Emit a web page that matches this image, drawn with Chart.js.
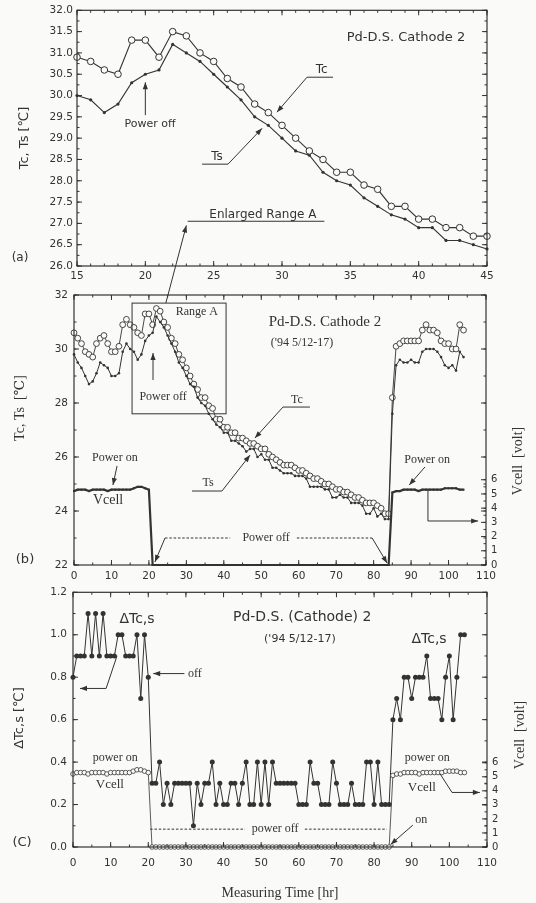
<!DOCTYPE html>
<html><head><meta charset="utf-8">
<script src="https://cdn.jsdelivr.net/npm/chart.js@4.4.1/dist/chart.umd.min.js"></script>
<style>
html,body{margin:0;padding:0;background:#fafaf8;}
body{width:536px;height:903px;position:relative;overflow:hidden;}
canvas{position:absolute;left:0;}
</style></head><body>
<canvas id="ca" width="536" height="305" style="top:0px;width:536px;height:305px"></canvas>
<canvas id="cb" width="536" height="320" style="top:280px;width:536px;height:320px"></canvas>
<canvas id="cc" width="536" height="323" style="top:580px;width:536px;height:323px"></canvas>
<script>
// ---------------- DATA ----------------
const hours = [0,1,2,3,4,5,6,7,8,9,10,11,12,13,14,15,16,17,18,19,20,21,22,23,24,25,26,27,28,29,30,31,32,33,34,35,36,37,38,39,40,41,42,43,44,45,46,47,48,49,50,51,52,53,54,55,56,57,58,59,60,61,62,63,64,65,66,67,68,69,70,71,72,73,74,75,76,77,78,79,80,81,82,83,84,85,86,87,88,89,90,91,92,93,94,95,96,97,98,99,100,101,102,103,104];
const tc = [30.6,30.4,30.2,29.9,29.8,29.7,30.2,30.4,30.5,30.2,29.9,29.9,30.1,30.9,31.1,
  30.9,30.8,30.6,30.5,31.3,31.3,30.9,31.5,31.4,31.0,30.8,30.4,30.2,29.8,29.6,29.3,29.0,28.7,28.5,28.2,28.2,27.9,27.8,27.4,27.4,27.1,27.1,26.9,26.9,26.7,26.7,
  26.6,26.5,26.5,26.4,26.3,26.3,26.1,26.0,25.9,25.8,25.7,25.7,25.7,25.6,25.5,25.5,25.4,25.3,25.2,25.2,25.1,25.0,25.0,24.9,24.8,24.8,24.7,24.7,24.6,24.5,24.5,24.4,24.3,24.3,24.3,24.2,24.1,23.9,23.9,
  28.2,30.1,30.2,30.3,30.3,30.3,30.3,30.3,30.7,30.9,30.7,30.7,30.6,30.3,30.2,30.2,30.0,30.0,30.9,30.7];
const ts = [29.8,29.5,29.3,29.0,28.7,28.8,29.1,29.5,29.4,29.3,29.0,29.0,29.1,29.9,30.2,
  30.0,29.9,29.6,29.8,30.3,30.5,30.6,31.2,31.0,30.8,30.5,30.2,29.9,29.5,29.3,29.0,28.7,28.6,28.2,28.0,27.9,27.6,27.4,27.2,27.1,26.9,26.9,26.6,26.6,26.5,26.4,
  26.2,26.3,26.3,26.0,26.1,25.9,25.9,25.6,25.6,25.5,25.4,25.4,25.4,25.3,25.3,25.3,25.2,24.9,24.9,24.9,24.9,24.8,24.8,24.5,24.5,24.6,24.5,24.5,24.3,24.3,24.3,24.2,23.9,23.9,24.1,23.8,23.9,23.7,23.7,
  27.6,29.4,29.6,29.5,29.5,29.6,29.5,29.5,29.9,30.0,30.0,30.0,29.9,29.7,29.4,29.3,29.4,29.2,29.9,29.7];
const dT = [0.8,0.9,0.9,0.9,1.1,0.9,1.1,0.9,1.1,0.9,0.9,0.9,1.0,1.0,0.9,0.9,0.9,1.0,0.7,1.0,0.8,
  0.3,0.3,0.4,0.2,0.3,0.2,0.3,0.3,0.3,0.3,0.3,0.1,0.3,0.2,0.3,0.3,0.4,0.2,0.3,0.2,0.2,0.3,0.3,0.2,0.3,
  0.4,0.2,0.2,0.4,0.2,0.4,0.2,0.4,0.3,0.3,0.3,0.3,0.3,0.3,0.2,0.2,0.2,0.4,0.3,0.3,0.2,0.2,0.2,0.4,0.3,0.2,0.2,0.2,0.3,0.2,0.2,0.2,0.4,0.4,0.2,0.4,0.2,0.2,0.2,
  0.6,0.7,0.6,0.8,0.8,0.7,0.8,0.8,0.8,0.9,0.7,0.7,0.7,0.6,0.8,0.9,0.6,0.8,1.0,1.0];
const vcell = [5.2,5.3,5.3,5.3,5.2,5.3,5.3,5.3,5.3,5.2,5.3,5.3,5.3,5.3,5.3,5.3,5.4,5.5,5.5,5.4,5.3,
  0,0,0,0,0,0,0,0, 0,0,0,0,0,0,0,0, 0,0,0,0,0,0,0,0, 0,0,0,0,0,0,0,0,
  0,0,0,0,0,0,0,0, 0,0,0,0,0,0,0,0, 0,0,0,0,0,0,0,0, 0,0,0,0,0,0,0,0,
  5.1,5.2,5.2,5.3,5.3,5.3,5.3,5.2,5.3,5.3,5.3,5.3,5.3,5.3,5.4,5.4,5.4,5.4,5.3,5.3];
const xTicksA = [15,20,25,30,35,40,45];
const yTicksA = [26.0,26.5,27.0,27.5,28.0,28.5,29.0,29.5,30.0,30.5,31.0,31.5,32.0];
const xTicksBC = [0,10,20,30,40,50,60,70,80,90,100,110];
const yTicksB = [22,24,26,28,30,32];
const yTicksC = [0.0,0.2,0.4,0.6,0.8,1.0,1.2];
const vTicks = [0,1,2,3,4,5,6];

// ---------------- STYLE ----------------
const INK = '#333333', BG = '#fafaf8';
const SANS = '"DejaVu Sans", sans-serif';
const SERIF = '"Liberation Serif", "DejaVu Serif", serif';

function xy(xs, ys){ return ys.map((v,i)=>({x:xs[i], y:v})); }
function steps(a,b,s){ const r=[]; for(let v=a; v<=b+1e-9; v+=s) r.push(+v.toFixed(4)); return r; }
function fixTicks(arr){ return s=>{ s.ticks = arr.map(v=>({value:v})); }; }

function arrowHead(c, x1,y1,x2,y2, L=7, W=2.6){
  const ang=Math.atan2(y2-y1,x2-x1);
  c.beginPath(); c.moveTo(x2,y2);
  c.lineTo(x2-L*Math.cos(ang)+W*Math.sin(ang), y2-L*Math.sin(ang)-W*Math.cos(ang));
  c.lineTo(x2-L*Math.cos(ang)-W*Math.sin(ang), y2-L*Math.sin(ang)+W*Math.cos(ang));
  c.closePath(); c.fill();
}

function decor(spec){
  return {id:'decor', afterDraw(chart){
    const c=chart.ctx, a=chart.chartArea, S=chart.scales;
    c.save();
    c.strokeStyle=INK; c.fillStyle=INK; c.lineWidth=1.2;
    c.strokeRect(a.left, a.top, a.right-a.left, a.bottom-a.top);
    c.lineWidth=1;
    for(const t of spec.ticks){
      const sc=S[t.scale];
      const draw=(vals,len)=>{ for(const v of vals){ const p=sc.getPixelForValue(v); c.beginPath();
        if(sc.isHorizontal()){ c.moveTo(p,a.bottom); c.lineTo(p,a.bottom-len); c.moveTo(p,a.top); c.lineTo(p,a.top+len); }
        else { for(const sd of t.sides){ if(sd==='l'){ c.moveTo(a.left,p); c.lineTo(a.left+len,p);} else { c.moveTo(a.right,p); c.lineTo(a.right-len,p);} } }
        c.stroke(); } };
      draw(t.major,5); draw(t.minor,2.5);
    }
    const P=(p)=>[S.x.getPixelForValue(p[0]), S[p[2]||'y'].getPixelForValue(p[1])];
    for(const it of spec.items){
      c.setLineDash(it.dash||[]);
      c.lineWidth=it.lw||1;
      if(it.t==='line'){
        const pts=it.pts.map(P);
        c.beginPath(); c.moveTo(pts[0][0],pts[0][1]);
        for(let i=1;i<pts.length;i++) c.lineTo(pts[i][0],pts[i][1]);
        c.stroke(); c.setLineDash([]);
        if(it.arrow){ const n=pts.length; arrowHead(c, pts[n-2][0],pts[n-2][1],pts[n-1][0],pts[n-1][1]); }
      } else if(it.t==='rect'){
        const p1=P(it.p1), p2=P(it.p2);
        c.strokeRect(p1[0],p1[1],p2[0]-p1[0],p2[1]-p1[1]);
      } else if(it.t==='text'){
        const p=P(it.p); c.font=it.font; c.textAlign=it.align||'center'; c.textBaseline='middle';
        c.fillText(it.s,p[0],p[1]);
      }
    }
    c.setLineDash([]);
    for(const tx of spec.texts){
      c.save(); c.font=tx.font; c.textAlign='center'; c.textBaseline='middle';
      c.translate(tx.px,tx.py); if(tx.rot) c.rotate(-Math.PI/2);
      c.fillText(tx.s,0,0); c.restore();
    }
    c.restore();
  }};
}

function baseScale(opts){
  return Object.assign({type:'linear', grid:{display:false, drawTicks:false}, border:{display:false}}, opts);
}
const common = {responsive:false, animation:false, devicePixelRatio:1,
  plugins:{legend:{display:false}, tooltip:{enabled:false}}, elements:{line:{tension:0}}};

// ---------------- PANEL (a) ----------------
const hA = hours.slice(15,46), tcA = tc.slice(15,46), tsA = ts.slice(15,46);
new Chart(document.getElementById('ca'), {
  type:'line',
  data:{datasets:[
    {data:xy(hA,tcA), borderColor:INK, borderWidth:1.1, pointRadius:3.3, pointBackgroundColor:BG, pointBorderColor:INK, pointBorderWidth:1, clip:false},
    {data:xy(hA,tsA), borderColor:INK, borderWidth:1.1, pointRadius:1.6, pointBackgroundColor:INK, pointBorderWidth:0, clip:false}
  ]},
  options:Object.assign({}, common, {
    layout:{padding:{left:0,right:49,top:10,bottom:0}},
    scales:{
      x:baseScale({min:15,max:45, afterBuildTicks:fixTicks(xTicksA),
        ticks:{font:{family:SANS,size:10.5}, color:INK, padding:4, autoSkip:false, maxRotation:0},
        afterFit(s){ s.height=39; }}),
      y:baseScale({min:26,max:32, afterBuildTicks:fixTicks(yTicksA),
        ticks:{font:{family:SANS,size:10.5}, color:INK, padding:4, callback:v=>v.toFixed(1)},
        afterFit(s){ s.width=77; }})
    }
  }),
  plugins:[decor({
    ticks:[{scale:'x', major:xTicksA, minor:steps(15,45,1)},
           {scale:'y', major:yTicksA, minor:steps(26,32,0.25), sides:['l','r']}],
    items:[
      {t:'text', p:[39.07,31.37], s:'Pd-D.S. Cathode 2', font:'13px '+SANS},
      {t:'text', p:[32.9,30.6], s:'Tc', font:'12px '+SANS},
      {t:'line', pts:[[33.73,30.43],[31.83,30.43],[29.63,29.61]], arrow:true},
      {t:'text', p:[25.24,28.55], s:'Ts', font:'12px '+SANS},
      {t:'line', pts:[[24.15,28.39],[26.05,28.39],[28.54,29.23]], arrow:true},
      {t:'text', p:[20.34,29.33], s:'Power off', font:'11px '+SANS},
      {t:'line', pts:[[20,29.54],[20,30.31]], arrow:true},
      {t:'text', p:[28.6,27.2], s:'Enlarged Range A', font:'12px '+SANS},
      {t:'line', pts:[[33.1,27.05],[23.1,27.05]]},
      {t:'line', pts:[[21.5,25.13],[23.0,26.95]], arrow:true}
    ],
    texts:[{s:'Tc, Ts [℃]', px:25, py:138, rot:true, font:'13px '+SANS},
           {s:'(a)', px:20, py:258, font:'12px '+SANS}]
  })]
});

// ---------------- PANEL (b) ----------------
new Chart(document.getElementById('cb'), {
  type:'line',
  data:{datasets:[
    {data:xy(hours,vcell), yAxisID:'y2', borderColor:INK, borderWidth:2.2, pointRadius:1.4, pointStyle:'rect', pointBackgroundColor:INK, pointBorderWidth:0, clip:false},
    {data:xy(hours,ts), yAxisID:'y', borderColor:INK, borderWidth:1, pointRadius:1.3, pointBackgroundColor:INK, pointBorderWidth:0, clip:false},
    {data:xy(hours,tc), yAxisID:'y', borderColor:INK, borderWidth:0.9, pointRadius:2.9, pointBackgroundColor:BG, pointBorderColor:INK, pointBorderWidth:0.9, clip:false}
  ]},
  options:Object.assign({}, common, {
    layout:{padding:{left:0,right:0,top:15,bottom:0}},
    scales:{
      x:baseScale({min:0,max:110, afterBuildTicks:fixTicks(xTicksBC),
        ticks:{font:{family:SANS,size:10.5}, color:INK, padding:5, autoSkip:false, maxRotation:0},
        afterFit(s){ s.height=35; }}),
      y:baseScale({min:22,max:32, afterBuildTicks:fixTicks(yTicksB),
        ticks:{font:{family:SANS,size:10.5}, color:INK, padding:6},
        afterFit(s){ s.width=74; }}),
      y2:baseScale({position:'right', min:0, max:19, afterBuildTicks:fixTicks(vTicks),
        ticks:{font:{family:SANS,size:10}, color:INK, padding:5},
        afterFit(s){ s.width=50; }})
    }
  }),
  plugins:[decor({
    ticks:[{scale:'x', major:xTicksBC, minor:steps(0,110,5)},
           {scale:'y', major:yTicksB, minor:steps(22,32,1), sides:['l','r']},
           {scale:'y2', major:vTicks, minor:steps(0,6,0.5), sides:['r']}],
    items:[
      {t:'rect', p1:[15.5,31.7], p2:[40.6,27.6]},
      {t:'text', p:[32.8,31.37], s:'Range A', font:'12px '+SERIF},
      {t:'text', p:[67,31.0], s:'Pd-D.S. Cathode 2', font:'15px '+SERIF},
      {t:'text', p:[60.9,30.22], s:"('94 5/12-17)", font:'12px '+SERIF},
      {t:'text', p:[23.8,28.22], s:'Power off', font:'12px '+SERIF},
      {t:'line', pts:[[21.1,28.85],[21.1,29.85]], arrow:true},
      {t:'text', p:[59.5,28.1], s:'Tc', font:'12px '+SERIF},
      {t:'line', pts:[[63,27.85],[55.8,27.85],[48.3,26.7]], arrow:true},
      {t:'text', p:[35.8,25.04], s:'Ts', font:'12px '+SERIF},
      {t:'line', pts:[[31.5,24.74],[39.5,24.74],[47,26.07]], arrow:true},
      {t:'text', p:[10.9,25.96], s:'Power on', font:'12px '+SERIF},
      {t:'line', pts:[[11.5,25.67],[10.4,24.96]], arrow:true},
      {t:'text', p:[9.1,24.4], s:'Vcell', font:'14px '+SERIF},
      {t:'line', pts:[[24.3,23.0],[41.7,23.0]], dash:[2.5,1.8]},
      {t:'text', p:[51.3,23.0], s:'Power off', font:'12px '+SERIF},
      {t:'line', pts:[[59.5,23.0],[79.6,23.0]], dash:[2.5,1.8]},
      {t:'line', pts:[[24.3,23.0],[21.6,22.11]], arrow:true},
      {t:'line', pts:[[79.6,23.0],[83.6,22.07]], arrow:true},
      {t:'text', p:[94.3,25.9], s:'Power on', font:'12px '+SERIF},
      {t:'line', pts:[[93.7,25.63],[89.5,24.96]], arrow:true},
      {t:'line', pts:[[94.5,24.78],[94.5,23.63],[107.9,23.63]], arrow:true}
    ],
    texts:[{s:'Tc, Ts  [℃]', px:20, py:128, rot:true, font:'14px '+SERIF},
           {s:'Vcell  [volt]', px:518, py:181, rot:true, font:'14px '+SERIF},
           {s:'(b)', px:25, py:280, font:'13px '+SANS}]
  })]
});

// ---------------- PANEL (c) ----------------
new Chart(document.getElementById('cc'), {
  type:'line',
  data:{datasets:[
    {data:xy(hours,vcell), yAxisID:'y2', borderColor:INK, borderWidth:0.8, pointRadius:2.3, pointBackgroundColor:BG, pointBorderColor:INK, pointBorderWidth:0.8, clip:false},
    {data:xy(hours,dT), yAxisID:'y', borderColor:INK, borderWidth:1, pointRadius:2.5, pointBackgroundColor:INK, pointBorderWidth:0, clip:false}
  ]},
  options:Object.assign({}, common, {
    layout:{padding:{left:0,right:0,top:10,bottom:0}},
    scales:{
      x:baseScale({min:0,max:110, afterBuildTicks:fixTicks(xTicksBC),
        ticks:{font:{family:SANS,size:10.5}, color:INK, padding:10, autoSkip:false, maxRotation:0},
        afterFit(s){ s.height=56; }}),
      y:baseScale({min:0,max:1.2, afterBuildTicks:fixTicks(yTicksC),
        ticks:{font:{family:SANS,size:10.5}, color:INK, padding:6, callback:v=>v.toFixed(1)},
        afterFit(s){ s.width=73; }}),
      y2:baseScale({position:'right', min:0, max:18.14, afterBuildTicks:fixTicks(vTicks),
        ticks:{font:{family:SANS,size:10}, color:INK, padding:5},
        afterFit(s){ s.width=49; }})
    }
  }),
  plugins:[decor({
    ticks:[{scale:'x', major:xTicksBC, minor:steps(0,110,5)},
           {scale:'y', major:yTicksC, minor:steps(0,1.2,0.1), sides:['l','r']},
           {scale:'y2', major:vTicks, minor:steps(0,6,0.5), sides:['r']}],
    items:[
      {t:'text', p:[60.9,1.083], s:'Pd-D.S. (Cathode) 2', font:'14px '+SANS},
      {t:'text', p:[60.3,0.98], s:"('94 5/12-17)", font:'11px '+SANS},
      {t:'text', p:[17,1.074], s:'ΔTc,s', font:'14px '+SANS},
      {t:'text', p:[94.6,0.976], s:'ΔTc,s', font:'14px '+SANS},
      {t:'line', pts:[[11.7,0.901],[8.8,0.747],[1.86,0.747]], arrow:true},
      {t:'text', p:[32.4,0.817], s:'off', font:'12px '+SERIF},
      {t:'line', pts:[[29.6,0.817],[21.3,0.817]], arrow:true},
      {t:'text', p:[11.2,0.42], s:'power on', font:'12px '+SERIF},
      {t:'text', p:[9.8,0.294], s:'Vcell', font:'13px '+SERIF},
      {t:'text', p:[94.1,0.42], s:'power on', font:'12px '+SERIF},
      {t:'text', p:[92.7,0.28], s:'Vcell', font:'13px '+SERIF},
      {t:'line', pts:[[97.5,0.3455],[100.7,0.257],[108.1,0.257]], arrow:true},
      {t:'line', pts:[[20.5,0.084],[45.7,0.084]], dash:[2.5,1.8]},
      {t:'text', p:[53.7,0.084], s:'power off', font:'12px '+SERIF},
      {t:'line', pts:[[61.6,0.084],[83.4,0.084]], dash:[2.5,1.8]},
      {t:'text', p:[92.5,0.126], s:'on', font:'12px '+SERIF},
      {t:'line', pts:[[90.3,0.103],[84.4,0.012]], arrow:true}
    ],
    texts:[{s:'ΔTc,s [℃]', px:20, py:138, rot:true, font:'13px '+SANS},
           {s:'Vcell  [volt]', px:520, py:155, rot:true, font:'14px '+SERIF},
           {s:'(C)', px:22, py:263, font:'13px '+SANS},
           {s:'Measuring Time [hr]', px:280, py:313, font:'14px '+SERIF}]
  })]
});
</script>
</body></html>
